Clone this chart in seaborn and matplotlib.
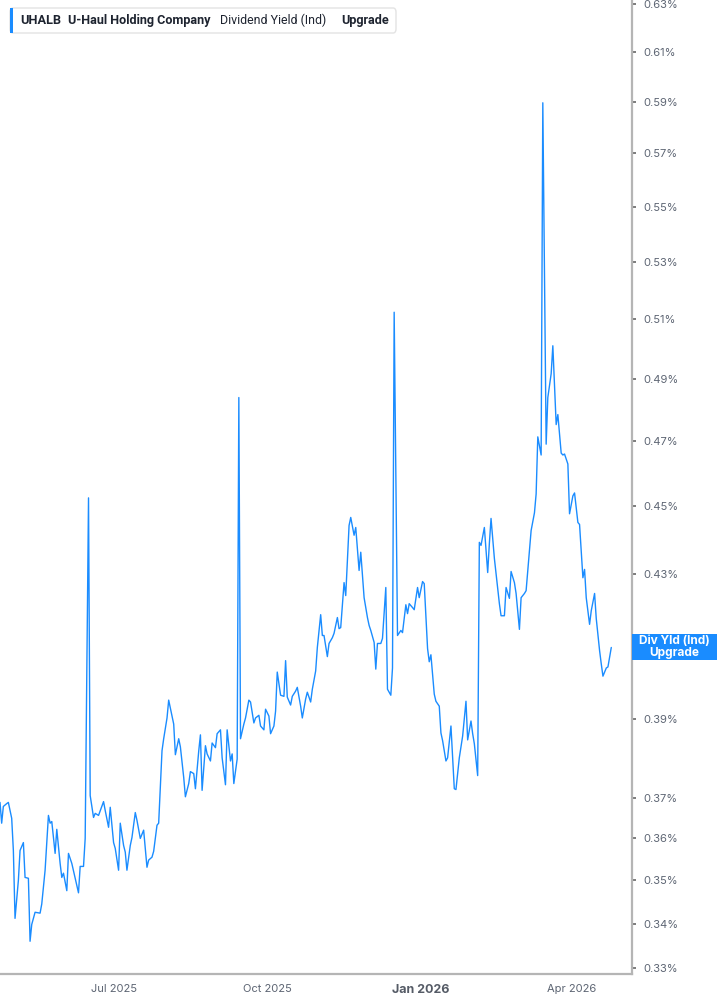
import numpy as np
import pandas as pd
import matplotlib
matplotlib.use("Agg")
import matplotlib.pyplot as plt
import matplotlib.dates as mdates
from matplotlib.patches import FancyBboxPatch, Rectangle
import seaborn as sns

# ---------------- data ----------------
start_date = "2025-04-24"
day_offsets = [
    0, 1, 2, 4, 5, 7, 8, 9, 11, 12, 14, 15, 17, 18, 19, 20, 21, 24, 25, 27,
    29, 30, 31, 33, 34, 36, 37, 38, 40, 41, 43, 45, 47, 48, 50, 51, 53, 54, 56, 57,
    59, 62, 63, 65, 66, 68, 69, 71, 72, 74, 75, 76, 78, 79, 81, 82, 84, 86, 88, 89,
    91, 92, 94, 95, 97, 98, 100, 101, 102, 104, 105, 107, 108, 110, 111, 113, 114, 116, 117, 119,
    120, 121, 123, 124, 126, 127, 129, 130, 132, 133, 135, 136, 138, 139, 140, 142, 143, 144, 146, 147,
    149, 150, 152, 153, 155, 156, 158, 159, 161, 162, 164, 165, 166, 168, 170, 171, 172, 174, 175, 177,
    178, 180, 181, 183, 184, 186, 187, 189, 190, 192, 193, 194, 196, 197, 199, 200, 202, 203, 204, 206,
    207, 209, 210, 212, 213, 215, 216, 218, 220, 221, 222, 224, 225, 226, 228, 229, 231, 232, 234, 235,
    236, 238, 240, 241, 243, 244, 245, 247, 248, 250, 251, 253, 254, 256, 257, 258, 260, 261, 263, 264,
    265, 267, 268, 270, 272, 273, 275, 277, 279, 280, 282, 283, 284, 286, 287, 288, 290, 292, 293, 294,
    296, 297, 299, 300, 302, 303, 305, 306, 308, 309, 311, 312, 314, 315, 317, 318, 320, 321, 322, 324,
    325, 327, 328, 330, 331, 333, 334, 336, 337, 338, 340, 341, 343, 344, 346, 347, 349, 350, 351, 353,
    354, 356, 357, 359, 360, 361, 363, 364, 366,
]
div_yield = [
    0.3688, 0.3637, 0.3678, 0.3685, 0.3688, 0.3649, 0.3571, 0.3412, 0.3500, 0.3571,
    0.3590, 0.3507, 0.3505, 0.3360, 0.3398, 0.3412, 0.3426, 0.3424, 0.3445, 0.3524,
    0.3656, 0.3637, 0.3641, 0.3564, 0.3622, 0.3540, 0.3507, 0.3517, 0.3476, 0.3564,
    0.3540, 0.3505, 0.3471, 0.3533, 0.3533, 0.3600, 0.4524, 0.3705, 0.3651, 0.3661,
    0.3656, 0.3690, 0.3668, 0.3627, 0.3676, 0.3590, 0.3576, 0.3524, 0.3637, 0.3583,
    0.3567, 0.3524, 0.3583, 0.3602, 0.3663, 0.3644, 0.3600, 0.3620, 0.3531, 0.3548,
    0.3555, 0.3569, 0.3632, 0.3637, 0.3818, 0.3849, 0.3903, 0.3950, 0.3929, 0.3887,
    0.3808, 0.3849, 0.3828, 0.3750, 0.3702, 0.3735, 0.3765, 0.3760, 0.3722, 0.3818,
    0.3859, 0.3718, 0.3831, 0.3810, 0.3792, 0.3838, 0.3826, 0.3862, 0.3872, 0.3800,
    0.3732, 0.3872, 0.3792, 0.3810, 0.3735, 0.3797, 0.4839, 0.3849, 0.3887, 0.3903,
    0.3950, 0.3945, 0.3890, 0.3903, 0.3910, 0.3882, 0.3872, 0.3926, 0.3908, 0.3862,
    0.3882, 0.3921, 0.4025, 0.3963, 0.3960, 0.4056, 0.3958, 0.3937, 0.3960, 0.3974,
    0.3984, 0.3934, 0.3903, 0.3953, 0.3971, 0.3945, 0.3979, 0.4028, 0.4092, 0.4183,
    0.4125, 0.4125, 0.4067, 0.4103, 0.4119, 0.4131, 0.4175, 0.4144, 0.4147, 0.4274,
    0.4237, 0.4441, 0.4465, 0.4412, 0.4435, 0.4309, 0.4362, 0.4231, 0.4175, 0.4153,
    0.4139, 0.4106, 0.4033, 0.4103, 0.4103, 0.4117, 0.4260, 0.3979, 0.3963, 0.4036,
    0.5124, 0.4125, 0.4139, 0.4133, 0.4211, 0.4186, 0.4214, 0.4203, 0.4197, 0.4260,
    0.4231, 0.4277, 0.4271, 0.4089, 0.4053, 0.4072, 0.3966, 0.3947, 0.3934, 0.3864,
    0.3844, 0.3792, 0.3800, 0.3882, 0.3722, 0.3720, 0.3800, 0.3856, 0.3947, 0.3846,
    0.3895, 0.3862, 0.3836, 0.3755, 0.4391, 0.4382, 0.4435, 0.4303, 0.4388, 0.4462,
    0.4344, 0.4300, 0.4214, 0.4180, 0.4180, 0.4260, 0.4229, 0.4306, 0.4274, 0.4243,
    0.4142, 0.4231, 0.4243, 0.4251, 0.4368, 0.4426, 0.4479, 0.4536, 0.4713, 0.4656,
    0.5897, 0.4690, 0.4839, 0.4917, 0.5010, 0.4752, 0.4784, 0.4662, 0.4656, 0.4659,
    0.4628, 0.4476, 0.4530, 0.4539, 0.4450, 0.4444, 0.4288, 0.4312, 0.4231, 0.4156,
    0.4194, 0.4243, 0.4172, 0.4083, 0.4047, 0.4014, 0.4036, 0.4039, 0.4092,
]
y_ticks = [0.33, 0.34, 0.35, 0.36, 0.37, 0.39, 0.43, 0.45, 0.47, 0.49,
           0.51, 0.53, 0.55, 0.57, 0.59, 0.61, 0.63]
x_tick_dates = ["2025-07-01", "2025-10-01", "2026-01-01", "2026-04-01"]
x_tick_labels = ["Jul 2025", "Oct 2025", "Jan 2026", "Apr 2026"]
axis_end_offset = 378.4
title_parts = ["UHALB", "U-Haul Holding Company", "Dividend Yield (Ind)", "Upgrade"]
badge_lines = ["Div Yld (Ind)", "Upgrade"]

# ---------------- figure ----------------
sns.set_style("white")
plt.rcParams["font.family"] = ["Inter", "DejaVu Sans"]

W, H = 717, 1005
fig = plt.figure(figsize=(W / 100, H / 100), dpi=100)
ax = fig.add_axes([0, 31 / H, 632 / W, 974 / H])

start = pd.Timestamp(start_date)
df = pd.DataFrame({
    "date": start + pd.to_timedelta(day_offsets, unit="D"),
    "yield": div_yield,
})
LINE = "#1a8cff"
sns.lineplot(data=df, x="date", y="yield", ax=ax, color=LINE, linewidth=1.0,
             estimator=None, sort=False)

ax.set_yscale("log")
ax.set_ylim(0.3287, 0.6318)
ax.set_xlim(start, start + pd.Timedelta(days=axis_end_offset))

ax.yaxis.tick_right()
ax.set_yticks(y_ticks)
ax.set_yticklabels([f"{t:.2f}%" for t in y_ticks])
ax.yaxis.set_minor_locator(matplotlib.ticker.NullLocator())
ax.set_xticks(pd.to_datetime(x_tick_dates))
ax.set_xticklabels(x_tick_labels)
ax.xaxis.set_minor_locator(matplotlib.ticker.NullLocator())

TICKC = "#5d6573"
ax.tick_params(axis="y", which="major", length=3, width=1.2, color="#666666",
               labelsize=8, labelcolor=TICKC, pad=5, direction="out",
               right=True, left=False)
ax.tick_params(axis="x", which="major", length=4, width=1, color="#999999",
               labelsize=8, labelcolor=TICKC, pad=3, direction="out")
for lbl in ax.get_xticklabels():
    if lbl.get_text() == "Jan 2026":
        lbl.set_fontweight("bold")
        lbl.set_fontsize(9)
        lbl.set_color("#555b66")

ax.set_xlabel("")
ax.set_ylabel("")
for s in ["top", "left"]:
    ax.spines[s].set_visible(False)
for s in ["right", "bottom"]:
    ax.spines[s].set_visible(True)
    ax.spines[s].set_color("#b5b5b5")
    ax.spines[s].set_linewidth(1.6)
ax.grid(False)

def fx(x):
    return x / W

def fy(y):
    return 1 - y / H

# title box
box = FancyBboxPatch((fx(10), fy(33)), fx(386), 25 / H,
                     boxstyle="round,pad=0,rounding_size=0.004",
                     transform=fig.transFigure, facecolor="white",
                     edgecolor="#e3e3e3", linewidth=1, zorder=5)
fig.patches.append(box)
fig.patches.append(Rectangle((fx(10), fy(33)), fx(3), 25 / H,
                             transform=fig.transFigure, facecolor=LINE,
                             edgecolor="none", zorder=6))
title_x = [20, 68, 220, 341]
title_wpx = [41, 143, 106, 48]
title_w = ["bold", "bold", "normal", "bold"]
renderer = fig.canvas.get_renderer()
for t, x, wpx, w in zip(title_parts, title_x, title_wpx, title_w):
    txt = fig.text(fx(x), fy(20.5), t, fontsize=10, fontweight=w,
                   family=["Roboto", "DejaVu Sans"],
                   color="#1e2430", va="center", ha="left", zorder=7)
    cur = txt.get_window_extent(renderer=renderer).width
    txt.set_fontsize(10 * wpx / cur)

# badge at last value
last_y_disp = ax.transData.transform((mdates.date2num(df["date"].iloc[-1]),
                                      div_yield[-1]))[1]
cy = H - last_y_disp
fig.patches.append(Rectangle((fx(632), fy(cy + 13)), fx(85), 26 / H,
                             transform=fig.transFigure, facecolor=LINE,
                             edgecolor="none", zorder=6))
fig.text(fx(674.5), fy(cy - 6), badge_lines[0], fontsize=8.5, fontweight="bold",
         color="white", ha="center", va="center", zorder=7)
fig.text(fx(674.5), fy(cy + 6), badge_lines[1], fontsize=8.5, fontweight="bold",
         color="white", ha="center", va="center", zorder=7)

fig.savefig("out.png", dpi=100)
